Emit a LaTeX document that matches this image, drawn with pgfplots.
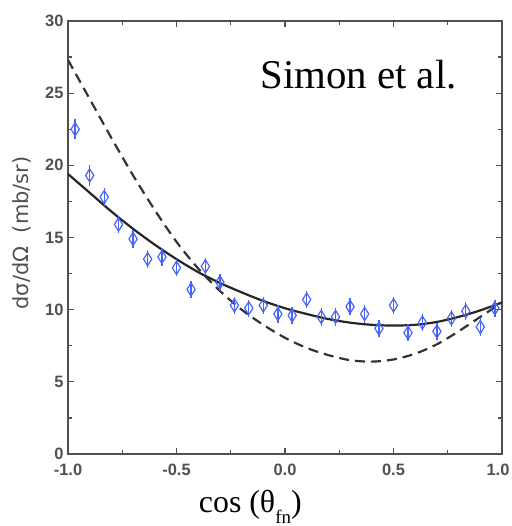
\documentclass[border=0pt]{standalone}
\usepackage{fontspec}
\setmainfont{Liberation Serif}
\setsansfont{Liberation Sans}
\newfontfamily\dejavu{DejaVu Sans}
\usepackage{pgfplots}
\usepackage{pgfplotstable}
\pgfplotsset{compat=1.18}
\definecolor{ptblue}{RGB}{70,100,250}
\definecolor{axgray}{RGB}{80,80,80}
\pgfplotstableread{
x y e
-0.967 22.5 0.7
-0.900 19.3 0.7
-0.833 17.8 0.6
-0.767 15.9 0.6
-0.700 14.9 0.6
-0.633 13.5 0.6
-0.567 13.65 0.6
-0.500 12.9 0.6
-0.433 11.4 0.6
-0.367 13.0 0.6
-0.300 11.9 0.6
-0.233 10.3 0.6
-0.167 10.1 0.6
-0.100 10.3 0.6
-0.033 9.7 0.6
0.033 9.6 0.6
0.100 10.7 0.6
0.167 9.5 0.6
0.233 9.5 0.6
0.300 10.2 0.6
0.367 9.7 0.6
0.433 8.7 0.6
0.500 10.3 0.6
0.567 8.4 0.6
0.633 9.1 0.6
0.700 8.5 0.6
0.767 9.4 0.6
0.833 9.9 0.6
0.900 8.8 0.6
0.967 10.1 0.6
}\datatab
\pgfplotstableread{
x y
-1.0 19.4
-0.9 18.1
-0.8 16.8
-0.7 15.6
-0.6 14.5
-0.5 13.5
-0.4 12.6
-0.3 11.85
-0.2 11.2
-0.1 10.6
0.0 10.1
0.1 9.7
0.2 9.35
0.3 9.1
0.4 8.95
0.5 8.9
0.6 8.95
0.7 9.15
0.8 9.5
0.9 9.95
1.0 10.5
}\solidtab
\pgfplotstableread{
x y
-1.0 27.3
-0.9 24.6
-0.8 21.9
-0.7 19.3
-0.6 16.9
-0.5 14.7
-0.4 12.85
-0.3 11.3
-0.2 10.0
-0.1 8.95
0.0 8.05
0.1 7.35
0.2 6.85
0.3 6.5
0.4 6.4
0.5 6.55
0.6 6.95
0.7 7.6
0.8 8.5
0.9 9.5
1.0 10.5
}\dashtab
\begin{document}
\begin{tikzpicture}
\path[use as bounding box] (-68bp,-72bp) rectangle (444bp,454bp);
\begin{axis}[
 at={(0,0)}, anchor=south west,
 scale only axis, width=434bp, height=433bp,
 xmin=-1, xmax=1, ymin=0, ymax=30,
 xtick={-1,-0.5,0,0.5,1},
 xticklabels={-1.0,-0.5,0.0,0.5,\hspace*{-8bp}1.0},
 minor xtick={-0.75,-0.25,0.25,0.75},
 ytick={0,5,...,30},
 minor ytick={2.5,7.5,...,27.5},
 tick align=inside,
 major tick length=6bp, minor tick length=4bp,
 axis line style={axgray, line width=2bp},
 every tick/.style={axgray, line width=1.3bp},
 ticklabel style={font=\sffamily\bfseries\fontsize{16.5}{16.5}\selectfont, text=axgray},
 /pgf/number format/assume math mode=true,
 xticklabel style={yshift=-7bp},
 yticklabel style={xshift=-1bp},
 ylabel={d\kern0.5pt σ/dΩ\ \ (mb/sr)},
 ylabel style={at={(axis description cs:-0.105,0.51)}, anchor=center, font=\dejavu\fontsize{21}{21}\selectfont, text=axgray},
 xlabel={cos (θ\raisebox{-0.32em}{\fontsize{19}{19}\selectfont fn})},
 xlabel style={at={(axis description cs:0.42,-0.122)}, anchor=center, font=\fontsize{32}{32}\selectfont},
]
\addplot[black!85, line width=2.2bp, smooth] table[x=x,y=y] {\solidtab};
\addplot[black!80, line width=2.2bp, dash pattern=on 10bp off 6bp, smooth] table[x=x,y=y] {\dashtab};
\addplot[only marks, mark=diamond, mark size=5.5pt, ptblue, line width=1.2bp,
  mark options={fill=white, yscale=1.2},
  error bars/.cd, y dir=both, y explicit,
  error bar style={ptblue, line width=1.4bp}, error mark=none]
  table[x=x,y=y,y error=e] {\datatab};
\node[anchor=base west, font=\fontsize{41}{41}\selectfont] at (axis description cs:0.435,0.845) {Simon et al.};
\end{axis}
\end{tikzpicture}
\end{document}
